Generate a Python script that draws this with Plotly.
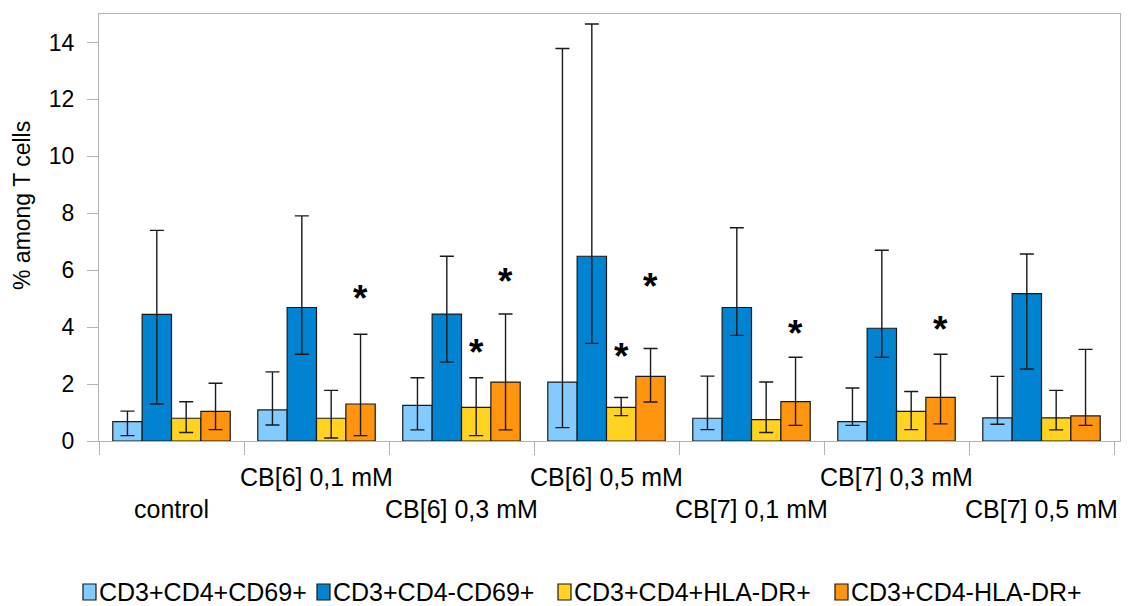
import plotly.graph_objects as go

# Treatment groups along the x axis
categories = ["control", "CB[6] 0,1 mM", "CB[6] 0,3 mM", "CB[6] 0,5 mM",
              "CB[7] 0,1 mM", "CB[7] 0,3 mM", "CB[7] 0,5 mM"]

# Series names and fill colours
series_names = ["CD3+CD4+CD69+", "CD3+CD4-CD69+", "CD3+CD4+HLA-DR+", "CD3+CD4-HLA-DR+"]
series_colors = ["#83caff", "#0084d1", "#ffd320", "#ff950e"]

# Bar heights (% among T cells)
cd4p_cd69 = [0.68, 1.09, 1.25, 2.07, 0.80, 0.68, 0.81]
cd4n_cd69 = [4.45, 4.69, 4.46, 6.49, 4.69, 3.96, 5.18]
cd4p_hla = [0.80, 0.80, 1.18, 1.18, 0.75, 1.04, 0.81]
cd4n_hla = [1.04, 1.30, 2.07, 2.27, 1.38, 1.53, 0.88]

# Whisker ends (upper / lower)
cd4p_cd69_hi = [1.05, 2.43, 2.22, 13.79, 2.28, 1.86, 2.27]
cd4p_cd69_lo = [0.19, 0.56, 0.39, 0.47, 0.40, 0.55, 0.59]
cd4n_cd69_hi = [7.40, 7.91, 6.49, 14.65, 7.49, 6.70, 6.57]
cd4n_cd69_lo = [1.30, 3.05, 2.77, 3.43, 3.71, 2.94, 2.53]
cd4p_hla_hi = [1.38, 1.78, 2.22, 1.53, 2.07, 1.74, 1.78]
cd4p_hla_lo = [0.30, 0.105, 0.19, 0.89, 0.30, 0.40, 0.39]
cd4n_hla_hi = [2.03, 3.75, 4.46, 3.25, 2.94, 3.05, 3.22]
cd4n_hla_lo = [0.40, 0.19, 0.39, 1.37, 0.55, 0.60, 0.55]

# Significance marks (height of the asterisk, None = not significant)
cd4p_cd69_star = [None] * 7
cd4n_cd69_star = [None] * 7
cd4p_hla_star = [None, None, 3.4, 3.25, None, None, None]
cd4n_hla_star = [None, 5.3, 5.9, 5.7, 4.07, 4.2, None]

y_ticks = [0, 2, 4, 6, 8, 10, 12, 14]
y_title = "% among T cells"

values = [cd4p_cd69, cd4n_cd69, cd4p_hla, cd4n_hla]
highs = [cd4p_cd69_hi, cd4n_cd69_hi, cd4p_hla_hi, cd4n_hla_hi]
lows = [cd4p_cd69_lo, cd4n_cd69_lo, cd4p_hla_lo, cd4n_hla_lo]
stars = [cd4p_cd69_star, cd4n_cd69_star, cd4p_hla_star, cd4n_hla_star]

FONT = "Liberation Sans, Arial, sans-serif"
AXIS_GREY = "#b3b3b3"
BARGAP = 0.19

fig = go.Figure()
for name, color, v, hi, lo in zip(series_names, series_colors, values, highs, lows):
    fig.add_trace(go.Bar(
        name=name,
        x=categories,
        y=v,
        marker=dict(color=color, line=dict(color="#1a1a1a", width=1.2)),
        error_y=dict(
            type="data",
            symmetric=False,
            array=[h - m for h, m in zip(hi, v)],
            arrayminus=[m - l for m, l in zip(v, lo)],
            color="#1a1a1a",
            thickness=1.4,
            width=7,
        ),
        showlegend=False,
    ))

annotations = []

# Asterisks above significant bars, centred on each bar of the group
n_series = len(series_names)
bar_w = (1 - BARGAP) / n_series
for k, s in enumerate(stars):
    offset = (k - (n_series - 1) / 2) * bar_w
    for i, yv in enumerate(s):
        if yv is None:
            continue
        annotations.append(dict(
            x=i + offset, y=yv, xref="x", yref="y",
            text="<b>*</b>", showarrow=False,
            font=dict(family=FONT, size=37, color="#000000"),
            xanchor="center", yanchor="middle", yshift=-8,
        ))

# Staggered category labels below the axis
for i, cat in enumerate(categories):
    annotations.append(dict(
        x=i, y=0, xref="x", yref="paper",
        text=cat, showarrow=False,
        font=dict(family=FONT, size=25, color="#000000"),
        xanchor="center", yanchor="middle",
        yshift=-36 if i % 2 else -68,
    ))

PLOT_L, PLOT_W, PLOT_B, PLOT_H = 99, 1021, 441, 427

# Vertical axis title, sitting slightly above the middle of the axis
annotations.append(dict(
    x=(22 - PLOT_L) / PLOT_W, y=(PLOT_B - 206) / PLOT_H,
    xref="paper", yref="paper", text=y_title, showarrow=False,
    textangle=-90,
    font=dict(family=FONT, size=23, color="#000000"),
    xanchor="center", yanchor="middle",
))

# Legend row under the chart: colour swatch followed by the series name
legend_text_x = [97, 331, 572, 849]
legend_row_y = 592
shapes = []
for name, color, tx in zip(series_names, series_colors, legend_text_x):
    x0 = (tx - 14 - PLOT_L) / PLOT_W
    x1 = (tx - 1 - PLOT_L) / PLOT_W
    y0 = (PLOT_B - (legend_row_y + 8)) / PLOT_H
    y1 = (PLOT_B - (legend_row_y - 8)) / PLOT_H
    shapes.append(dict(type="rect", xref="paper", yref="paper",
                       x0=x0, x1=x1, y0=y0, y1=y1,
                       fillcolor=color, line=dict(color="#1a1a1a", width=1.2)))
    annotations.append(dict(
        x=(tx - PLOT_L) / PLOT_W, y=(PLOT_B - legend_row_y) / PLOT_H,
        xref="paper", yref="paper", text=name, showarrow=False,
        font=dict(family=FONT, size=25, color="#000000"),
        xanchor="left", yanchor="middle",
    ))

fig.update_layout(
    width=1128, height=606,
    margin=dict(l=99, r=8, t=14, b=165),
    paper_bgcolor="white", plot_bgcolor="white",
    barmode="group", bargap=BARGAP, bargroupgap=0,
    font=dict(family=FONT, color="#000000"),
    annotations=annotations,
    shapes=shapes,
)

fig.update_xaxes(
    type="category",
    showticklabels=False,
    ticks="outside", tickson="boundaries", ticklen=13,
    tickcolor=AXIS_GREY, tickwidth=1.3,
    showline=True, linecolor=AXIS_GREY, linewidth=1.3, mirror=True,
    showgrid=False, zeroline=False,
)
fig.update_yaxes(
    range=[0, 15],
    tickvals=y_ticks,
    ticks="outside", ticklen=11, tickcolor=AXIS_GREY, tickwidth=1.3,
    ticklabelstandoff=8,
    tickfont=dict(family=FONT, size=23, color="#000000"),
    showline=True, linecolor=AXIS_GREY, linewidth=1.3, mirror=True,
    showgrid=False, zeroline=False,
)

fig.write_html("out.html")
